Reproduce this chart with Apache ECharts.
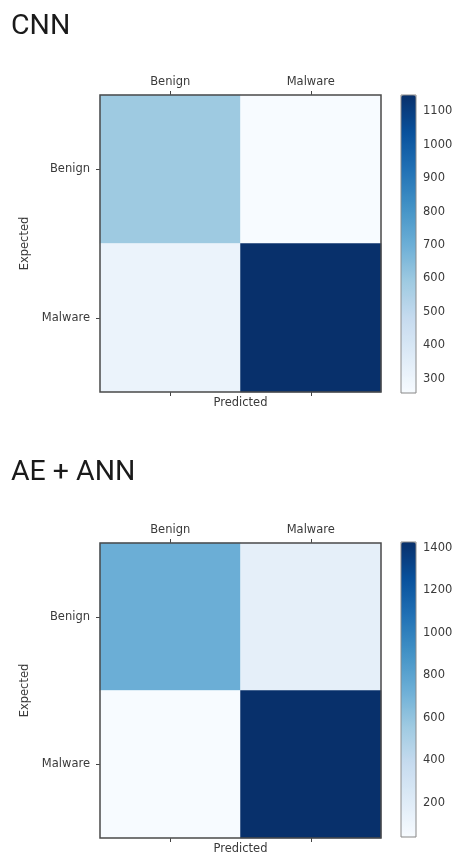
<!DOCTYPE html>
<html>
<head>
<meta charset="utf-8">
<script src="https://cdn.jsdelivr.net/npm/echarts@6/dist/echarts.min.js"></script>
<style>
  html, body { margin: 0; padding: 0; background: #ffffff; }
  #chart { width: 456px; height: 856px; }
</style>
</head>
<body>
<div id="chart"></div>
<script>
// Class labels shared by both confusion matrices
const categories = ['Benign', 'Malware'];

// Rows = expected class, columns = predicted class
const cnnMatrix = [
  [592, 258],
  [311, 1148]
];
const aeAnnMatrix = [
  [734, 165],
  [40, 1428]
];

// Colour-bar tick labels
const cnnTicks = [300, 400, 500, 600, 700, 800, 900, 1000, 1100];
const aeAnnTicks = [200, 400, 600, 800, 1000, 1200, 1400];

// Matplotlib "Blues" colormap stops
const blues = ['#f7fbff', '#deebf7', '#c6dbef', '#9ecae1', '#6baed6',
               '#4292c6', '#2171b5', '#08519c', '#08306b'];

function toCells(matrix) {
  const cells = [];
  matrix.forEach((row, r) => row.forEach((v, c) => cells.push([c, r, v])));
  return cells;
}
function flatMin(m) { return Math.min.apply(null, m.flat()); }
function flatMax(m) { return Math.max.apply(null, m.flat()); }

const textColor = '#3a3a3a';
const labelFont = { fontFamily: '"DejaVu Sans", sans-serif', fontSize: 11.5, color: textColor };
const frameColor = '#4a4a4a';

function heatAxes(gridIndex) {
  return {
    x: [
      {
        type: 'category', gridIndex, data: categories, position: 'top',
        axisLine: { show: false },
        axisTick: { show: true, alignWithLabel: true, length: 4, lineStyle: { color: '#444' } },
        axisLabel: Object.assign({ margin: 7 }, labelFont),
        splitLine: { show: false }
      },
      {
        type: 'category', gridIndex, data: categories, position: 'bottom',
        axisLine: { show: false },
        axisTick: { show: true, alignWithLabel: true, length: 4, lineStyle: { color: '#444' } },
        axisLabel: { show: false },
        name: 'Predicted', nameLocation: 'middle', nameGap: 5,
        nameTextStyle: labelFont
      }
    ],
    y: {
      type: 'category', gridIndex, data: categories, inverse: true,
      axisLine: { show: false },
      axisTick: { show: true, alignWithLabel: true, length: 4, lineStyle: { color: '#444' } },
      axisLabel: Object.assign({ margin: 10 }, labelFont),
      name: 'Expected', nameLocation: 'middle', nameGap: 68, nameRotate: 90,
      nameTextStyle: labelFont
    }
  };
}

function barAxes(gridIndex, min, max, ticks) {
  return {
    x: { type: 'value', gridIndex, show: false, min: 0, max: 1 },
    y: {
      type: 'value', gridIndex, position: 'right', min, max,
      axisLine: { show: false },
      axisTick: { show: true, length: 4, customValues: ticks, lineStyle: { color: '#555' } },
      axisLabel: Object.assign({ margin: 7, customValues: ticks, formatter: v => String(v) }, labelFont),
      splitLine: { show: false }
    }
  };
}

const cnnMin = flatMin(cnnMatrix), cnnMax = flatMax(cnnMatrix);
const aeMin = flatMin(aeAnnMatrix), aeMax = flatMax(aeAnnMatrix);

const h0 = heatAxes(0), b0 = barAxes(1, cnnMin, cnnMax, cnnTicks);
const h1 = heatAxes(2), b1 = barAxes(3, aeMin, aeMax, aeAnnTicks);

const titleStyle = { fontFamily: 'Roboto', fontSize: 28.5, fontWeight: 'normal', color: '#1a1a1a' };

const option = {
  backgroundColor: '#ffffff',
  animation: false,
  title: [
    { text: 'CNN', left: 6, top: 7, textStyle: titleStyle },
    { text: 'AE + ANN', left: 6, top: 453, textStyle: titleStyle }
  ],
  grid: [
    { left: 100, top: 95, width: 281, height: 297, show: true, z: 5, borderColor: frameColor, borderWidth: 1.5, backgroundColor: 'transparent' },
    { left: 401, top: 95, width: 15, height: 298, show: true, z: 5, borderColor: '#888', borderWidth: 1, backgroundColor: 'transparent' },
    { left: 100, top: 543, width: 281, height: 295, show: true, z: 5, borderColor: frameColor, borderWidth: 1.5, backgroundColor: 'transparent' },
    { left: 401, top: 542, width: 15, height: 295, show: true, z: 5, borderColor: '#888', borderWidth: 1, backgroundColor: 'transparent' }
  ],
  xAxis: [h0.x[0], h0.x[1], b0.x, h1.x[0], h1.x[1], b1.x],
  yAxis: [h0.y, b0.y, h1.y, b1.y],
  visualMap: [
    {
      type: 'continuous', seriesIndex: 0, min: cnnMin, max: cnnMax,
      left: 401, top: 95, itemWidth: 15, itemHeight: 298, padding: 0,
      calculable: false, hoverLink: false, text: null, showLabel: false,
      inRange: { color: blues }
    },
    {
      type: 'continuous', seriesIndex: 1, min: aeMin, max: aeMax,
      left: 401, top: 542, itemWidth: 15, itemHeight: 295, padding: 0,
      calculable: false, hoverLink: false, text: null, showLabel: false,
      inRange: { color: blues }
    }
  ],
  series: [
    {
      type: 'heatmap', xAxisIndex: 0, yAxisIndex: 0, data: toCells(cnnMatrix),
      itemStyle: { borderWidth: 0 }, emphasis: { disabled: true }
    },
    {
      type: 'heatmap', xAxisIndex: 3, yAxisIndex: 2, data: toCells(aeAnnMatrix),
      itemStyle: { borderWidth: 0 }, emphasis: { disabled: true }
    }
  ]
};

const chart = echarts.init(document.getElementById('chart'), null, { renderer: 'canvas' });
chart.setOption(option);
</script>
</body>
</html>
